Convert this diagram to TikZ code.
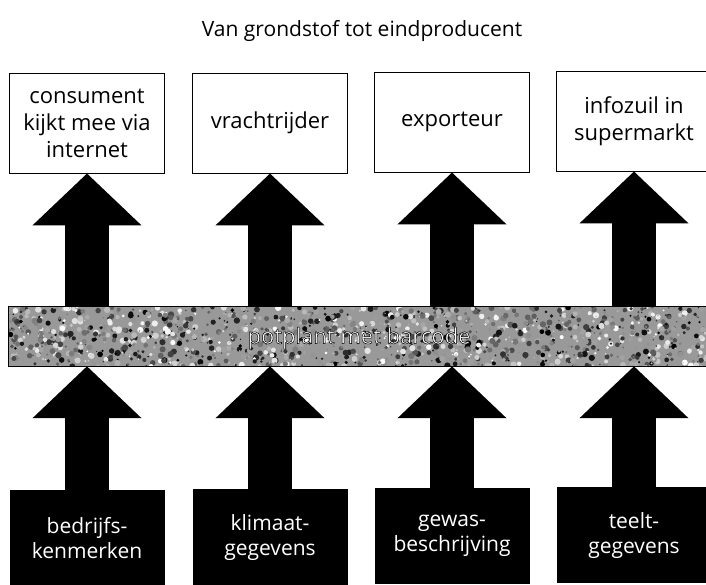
\documentclass[tikz,border=0pt]{standalone}
\usepackage{fontspec}
\setmainfont{Open Sans}
\usetikzlibrary{arrows.meta, positioning}

\begin{document}
\begin{tikzpicture}[x=1pt, y=-1pt, >=latex,
    topbox/.style={draw, thick, fill=white, minimum width=155pt, minimum height=100pt,
        inner sep=2pt, align=center, font=\fontsize{22}{27}\selectfont},
    basebox/.style={fill=black, text=white, minimum width=155pt, minimum height=96pt,
        inner sep=2pt, align=center, font=\fontsize{21}{25}\selectfont, anchor=north},
    bigarrow/.style={line width=44pt, -{Triangle[width=106pt, length=52pt]}}]
    \useasboundingbox[fill=white] (0,0) rectangle (706,584);

    % Titel
    \node[font=\fontsize{21}{25}\selectfont] (titel) at (362,31) {Van grondstof tot eindproducent};

    % Afnemers boven
    \node[topbox] (t1) at (87,123) {consument\\kijkt mee via\\internet};
    \node[topbox] (t2) at (270,123) {vrachtrijder};
    \node[topbox] (t3) at (452,122) {exporteur};
    \node[topbox] (t4) at (634,121) {infozuil in\\supermarkt};

    % Gegevens onder
    \node[basebox] (b1) at (87,490) {bedrijfs-\\kenmerken};
    \node[basebox] (b2) at (270,489) {klimaat-\\gegevens};
    \node[basebox] (b3) at (452,488) {gewas-\\beschrijving};
    \node[basebox] (b4) at (634,487) {teelt-\\gegevens};

    % Balk in het midden
    \node[minimum width=700pt, minimum height=59pt, inner sep=0pt] (band) at (359,336.5) {};
    \begin{scope}
        \clip (band.south west) rectangle (band.north east);
        \fill[black!40] (band.south west) rectangle (band.north east);
        \pgfmathsetseed{42}
        \foreach \i in {1,...,1500} {
            \pgfmathsetmacro{\px}{9+700*rnd}
            \pgfmathsetmacro{\py}{307+60*rnd}
            \pgfmathsetmacro{\pr}{0.6+2.6*rnd}
            \pgfmathsetmacro{\pg}{100*rnd}
            \fill[black!\pg] (\px,\py) circle (\pr);
        }
    \end{scope}
    \draw[thick] (band.south west) rectangle (band.north east);
    \node[font=\fontsize{22}{26}\selectfont, text=white] (label) at (359,338)
        {\special{pdf:literal direct 1 g 0 G 2 Tr 0.5 w}potplant met barcode\special{pdf:literal direct 0 Tr}};

    % Pijlen
    \foreach \n in {1,...,4} {
        \draw[bigarrow] (band.north -| t\n) -- (t\n.south);
        \draw[bigarrow] (b\n.north) -- (band.south -| b\n);
    }
\end{tikzpicture}
\end{document}
